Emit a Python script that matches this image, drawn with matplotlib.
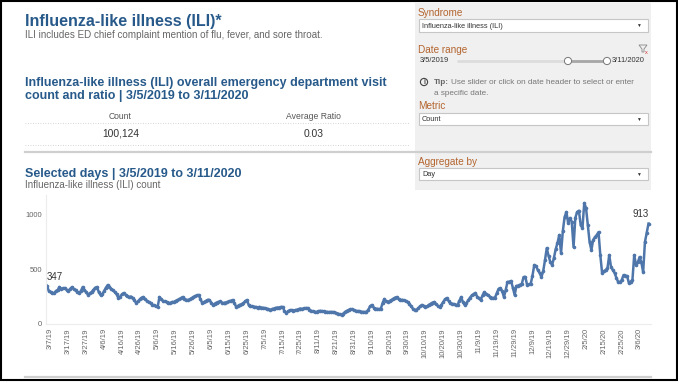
# ILI dashboard recreation
import numpy as np
import matplotlib.pyplot as plt
from matplotlib.patches import Rectangle, Circle, Polygon

plt.rcParams['font.family'] = ['Liberation Sans', 'DejaVu Sans']

# daily ILI counts, 3/5/2019 .. 3/11/2020 (days missing in the source are skipped)
ili_count = [
    347, 300, 290, 285, 280, 300, 310, 336, 320, 325,
    327, 310, 300, 320, 336, 315, 305, 290, 282, 300,
    336, 310, 290, 264, 280, 290, 310, 330, 336, 290,
    264, 270, 300, 330, 354, 340, 320, 305, 290, 270,
    236, 250, 270, 282, 265, 255, 245, 250, 236, 215,
    190, 205, 225, 240, 245, 225, 210, 200, 190, 175,
    170, 160, 155, 245, 225, 210, 205, 200, 195, 190,
    200, 200, 210, 215, 225, 235, 245, 230, 220, 218,
    225, 235, 245, 255, 260, 264, 225, 190, 200, 210,
    220, 218, 195, 173, 185, 195, 200, 205, 195, 190,
    195, 200, 205, 212, 218, 190, 155, 165, 175, 180,
    190, 205, 218, 173, 165, 160, 158, 155, 150, 155,
    150, 148, 145, 140, 135, 127, 135, 140, 145, 150,
    150, 155, 155, 120, 100, 115, 125, 127, 120, 125,
    130, 135, 140, 138, 142, 145, 145, 130, 120, 115,
    112, 109, 115, 120, 118, 115, 112, 110, 108, 110,
    109, 105, 100, 95, 88, 82, 95, 110, 120, 128,
    132, 136, 125, 120, 118, 115, 112, 110, 110, 109,
    130, 160, 173, 150, 140, 138, 136, 136, 190, 227,
    205, 200, 210, 218, 230, 240, 245, 225, 218, 220,
    215, 210, 200, 185, 160, 140, 130, 127, 145, 160,
    173, 165, 155, 160, 175, 185, 195, 200, 180, 165,
    155, 175, 200, 225, 236, 210, 190, 185, 180, 175,
    173, 210, 245, 200, 173, 190, 215, 240, 260, 272,
    282, 250, 235, 218, 260, 290, 275, 264, 250, 240,
    236, 240, 280, 320, 327, 300, 245, 310, 382, 385,
    391, 330, 264, 345, 350, 358, 364, 427, 427, 355,
    360, 364, 440, 536, 527, 490, 464, 427, 480, 580,
    690, 620, 564, 536, 600, 680, 736, 809, 645, 845,
    973, 1018, 918, 964, 930, 700, 964, 1018, 1030, 900,
    873, 1100, 1055, 900, 745, 673, 764, 790, 809, 836,
    627, 464, 480, 491, 505, 627, 518, 490, 464, 420,
    382, 382, 400, 445, 440, 436, 373, 385, 400, 627,
    536, 560, 609, 560, 473, 745, 827, 913,
]

tick_labels = ['3/7/19', '3/17/19', '3/27/19', '4/6/19', '4/16/19', '4/26/19',
               '5/6/19', '5/16/19', '5/26/19', '6/5/19', '6/15/19', '6/25/19',
               '7/5/19', '7/15/19', '7/25/19', '8/11/19', '8/21/19', '8/31/19',
               '9/10/19', '9/20/19', '9/30/19', '10/10/19', '10/20/19', '10/30/19',
               '11/9/19', '11/19/19', '11/29/19', '12/9/19', '12/19/19', '12/29/19',
               '2/5/20', '2/15/20', '2/25/20', '3/6/20']
first_tick = 2      # index of first labelled day
tick_step = 10
y_ticks = [0, 500, 1000]

total_count = '100,124'
avg_ratio = '0.03'

TITLE = '#275a8a'
LABEL = '#b4652f'
GREY = '#666666'
LINE = '#4e76aa'

fig = plt.figure(figsize=(6.78, 3.82), dpi=100)

# pixel-space canvas for the dashboard furniture
bg = fig.add_axes([0, 0, 1, 1])
bg.set_xlim(0, 678)
bg.set_ylim(382, 0)
bg.axis('off')

# left column texts
bg.text(25, 26, 'Influenza-like illness (ILI)*', fontsize=11.5, fontweight='bold', color=TITLE)
bg.text(25, 37.5, 'ILI includes ED chief complaint mention of flu, fever, and sore throat.',
        fontsize=7.1, color=GREY)
bg.text(25, 86, 'Influenza-like illness (ILI) overall emergency department visit',
        fontsize=9, fontweight='bold', color=TITLE)
bg.text(25, 99.5, 'count and ratio | 3/5/2019 to 3/11/2020',
        fontsize=9, fontweight='bold', color=TITLE)
bg.text(120.5, 118.7, 'Count', fontsize=6.2, color='#555555', ha='center')
bg.text(313.5, 118.7, 'Average Ratio', fontsize=6.2, color='#555555', ha='center')
bg.text(120.5, 137, total_count, fontsize=7.4, color='#333333', ha='center')
bg.text(313.5, 137, avg_ratio, fontsize=7.4, color='#333333', ha='center')
bg.plot([25, 409], [123.3, 123.3], ls=(0, (1, 2)), lw=0.6, color='#c8c8c8')
bg.plot([25, 409], [145, 145], ls=(0, (1, 2)), lw=0.6, color='#c8c8c8')

bg.text(25, 177, 'Selected days | 3/5/2019 to 3/11/2020', fontsize=9, fontweight='bold', color=TITLE)
bg.text(25, 188, 'Influenza-like illness (ILI) count', fontsize=7.1, color=GREY)

# right filter panel
bg.add_patch(Rectangle((415, 3), 236, 187, fc='#f0f0f0', ec='none'))


def dropdown(y0, y1, label):
    bg.add_patch(Rectangle((419, y0), 229, y1 - y0, fc='white', ec='#c6c6c6', lw=0.8))
    bg.text(422, (y0 + y1) / 2 + 0.5, label, fontsize=5.3, color='#333333', va='center')
    bg.text(638, (y0 + y1) / 2, '▼', fontsize=3.5, color='#333333', va='center', ha='center')


bg.text(418, 16, 'Syndrome', fontsize=7.2, color=LABEL)
dropdown(19, 32, 'Influenza-like illness (ILI)')

bg.text(418, 53, 'Date range', fontsize=7.2, color=LABEL)
bg.add_patch(Polygon([[639, 45], [647, 45], [644, 49], [644, 52], [642, 52], [642, 49]],
                     closed=True, fc='none', ec='#888888', lw=0.6))
bg.text(646.5, 52, 'x', fontsize=4, color='#d03030', ha='center', va='center')
bg.text(420, 61, '3/5/2019', fontsize=5.4, color='#333333', va='center')
bg.plot([458, 607], [61, 61], color='#dcdcdc', lw=2, solid_capstyle='round')
bg.plot([568, 607], [61, 61], color='#a8a8a8', lw=2)
for hx in (568, 607):
    bg.add_patch(Circle((hx, 61), 3.6, fc='white', ec='#777777', lw=0.7, zorder=3))
bg.text(612, 61, '3/11/2020', fontsize=5.4, color='#333333', va='center')

bg.add_patch(Circle((424, 82), 3.6, fc='none', ec='#444444', lw=0.8))
bg.text(424, 82.3, 'i', fontsize=4.8, fontweight='bold', color='#444444', ha='center', va='center')
bg.text(434, 84, 'Tip:', fontsize=5.9, fontweight='bold', color='#666666')
bg.text(451, 84, 'Use slider or click on date header to select or enter',
        fontsize=5.9, color='#777777')
bg.text(434, 95, 'a specific date.', fontsize=5.9, color='#777777')

bg.text(418, 109, 'Metric', fontsize=7.2, color=LABEL)
dropdown(113, 125, 'Count')

bg.plot([25, 651], [152, 152], color='#cfcfcf', lw=1.6)

bg.text(418, 165, 'Aggregate by', fontsize=7.2, color=LABEL)
dropdown(168, 180, 'Day')

bg.plot([25, 651], [377, 377], color='#cfcfcf', lw=1.6)
bg.add_patch(Rectangle((0.75, 0.75), 676.5, 379.5, fill=False, ec='black', lw=1.5))

# line chart
ax = fig.add_axes([46 / 678, (382 - 324) / 382, 605 / 678, 129 / 382])
x = np.arange(len(ili_count))
ax.plot(x, ili_count, color=LINE, lw=1.8, marker='o', ms=2.6, mew=0)
ax.set_xlim(-0.56, 338.4)
ax.set_ylim(0, 1173)
ax.set_facecolor('none')

ax.set_xticks([first_tick + tick_step * i for i in range(len(tick_labels))])
ax.set_xticklabels(tick_labels, rotation=90, fontsize=5.5, color=GREY)
ax.set_yticks(y_ticks)
ax.set_yticklabels([str(v) for v in y_ticks], fontsize=5.5, color=GREY)
ax.tick_params(length=0, pad=3)
for s in ('top', 'right'):
    ax.spines[s].set_visible(False)
for s in ('left', 'bottom'):
    ax.spines[s].set_color('#ececec')
    ax.spines[s].set_linewidth(0.8)

ax.annotate(str(ili_count[0]), (0, ili_count[0]), xytext=(0, 3), textcoords='offset points',
            fontsize=7, color='#333333', ha='left', va='bottom')
ax.annotate(str(ili_count[-1]), (len(ili_count) - 1, ili_count[-1]), xytext=(0, 3),
            textcoords='offset points', fontsize=7, color='#333333', ha='right', va='bottom')

fig.savefig('out.png', dpi=100)
